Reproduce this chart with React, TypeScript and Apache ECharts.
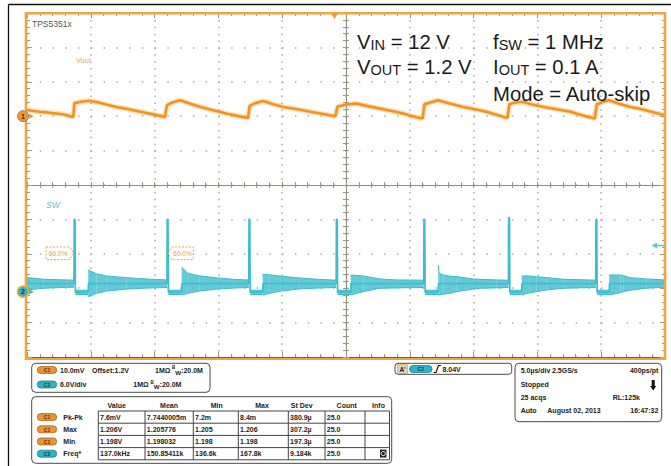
import React, { useEffect, useRef } from "react";
import * as echarts from "echarts";

const FONT = '"Liberation Sans", Arial, Helvetica, sans-serif';

// Horizontal: 5 µs/div, 10 divisions
const timeMin = 0;
const timeMax = 50;
const timeStep = 5;
// C1 (Vout): 10 mV/div, offset 1.2 V -> values in mV relative to 1.2 V
const c1Min = -70;
const c1Max = 30;
const c1Step = 10;
// C2 (SW): 6 V/div
const c2Min = -11.4;
const c2Max = 48.6;
const triggerLevel = 8.04;
const triggerTime = 24.1;

// Vout trace [µs, mV from 1.2 V]
const voutTrace: number[][] = [
  [0, 1.8], [0.5, 1.5], [1.0, 1.3], [1.6, 1.1], [2.0, 0.9], [2.5, 0.7], [3.0, 0.4], [3.62, -0.2],
  [3.72, 3.8], [4.2, 4.2], [4.9, 4.5], [5.6, 4.0], [6.3, 3.3], [7.0, 2.7], [8.0, 2.0], [8.9, 1.3], [9.8, 0.6], [10.8, -0.2],
  [10.97, 3.2], [11.4, 4.0], [12.0, 4.65], [12.8, 3.6], [13.6, 2.7], [14.6, 1.7], [15.6, 0.8], [16.5, 0.1], [17.32, -0.5],
  [17.45, 3.0], [17.9, 3.8], [18.5, 4.4], [19.3, 3.5], [20.1, 2.7], [21.2, 2.0], [22.2, 1.3], [23.1, 0.7], [24.15, 0.0],
  [24.35, 2.8], [25.05, 3.4], [25.8, 3.7], [26.6, 3.0], [27.7, 2.2], [28.6, 1.5], [29.5, 0.8], [30.2, 0.0], [31.0, -0.7],
  [31.15, 3.5], [31.6, 4.0], [32.2, 4.65], [33.2, 3.6], [34.2, 2.7], [35.1, 2.0], [36.0, 1.3], [36.8, 0.4], [37.65, -0.5],
  [37.8, 3.5], [38.2, 3.9], [38.8, 4.2], [39.6, 3.4], [40.5, 2.7], [41.5, 2.0], [42.6, 1.3], [43.5, 0.3], [44.5, -0.7],
  [44.65, 3.5], [45.1, 4.1], [45.6, 4.65], [46.4, 3.6], [47.3, 2.7], [48.2, 2.0], [49.0, 1.2], [50, 0.3],
];

// SW node main path [µs, V]: ringing centre, high-side pulses, low-side plateaus
const swEdges: number[][] = [
  [0, 1.4],
  [3.68, 1.4], [3.7, 12.6], [3.76, 12.6], [3.79, -0.1], [4.8, -0.1], [4.82, 1.4],
  [10.97, 1.4], [10.99, 12.6], [11.05, 12.6], [11.08, -0.1], [12.12, -0.1], [12.14, 1.4],
  [17.38, 1.4], [17.4, 12.6], [17.46, 12.6], [17.49, -0.1], [18.47, -0.1], [18.49, 1.4],
  [24.23, 1.4], [24.25, 12.6], [24.31, 12.6], [24.34, -0.1], [25.37, -0.1], [25.39, 1.4],
  [31.09, 1.4], [31.11, 12.6], [31.17, 12.6], [31.2, -0.1], [32.23, -0.1], [32.25, 1.4],
  [37.73, 1.4], [37.75, 12.9], [37.81, 12.9], [37.84, -0.1], [38.77, -0.1], [38.79, 1.4],
  [44.57, 1.4], [44.59, 12.6], [44.65, 12.6], [44.68, -0.1], [45.63, -0.1], [45.65, 1.4],
  [50, 1.4],
];

// SW ringing / plateau envelopes: each segment is [µs, low V, high V]
const swRinging: number[][][] = [
  [[0, 0.3, 2.45], [1.3, 0.59, 2.16], [3.1, 0.75, 2.04], [3.68, 0.77, 2.0]],
  [[3.79, -0.5, 0.25], [4.8, -0.5, 0.25]],
  [[4.8, -0.87, 3.78], [5.45, -0.3, 3.1], [6.25, 0.1, 2.74], [7.8, 0.45, 2.44], [9.4, 0.62, 2.21], [10.97, 0.72, 2.04]],
  [[11.08, -0.5, 0.25], [12.12, -0.5, 0.25]],
  [[12.12, -0.6, 4.25], [12.6, -0.3, 3.2], [13.5, 0.1, 2.75], [14.9, 0.45, 2.4], [16.2, 0.62, 2.15], [17.38, 0.72, 2.02]],
  [[17.49, -0.5, 0.25], [18.47, -0.5, 0.25]],
  [[18.47, -0.6, 3.03], [19.0, -0.3, 2.95], [19.9, 0.1, 2.7], [21.3, 0.45, 2.4], [22.8, 0.62, 2.15], [24.23, 0.72, 2.0]],
  [[24.34, -0.5, 0.25], [25.37, -0.5, 0.25]],
  [[25.37, -0.58, 2.91], [26.36, 0.0, 2.74], [27.66, 0.59, 2.21], [29.0, 0.65, 2.04], [31.09, 0.72, 2.0]],
  [[31.2, -0.5, 0.25], [32.23, -0.5, 0.25]],
  [[32.23, -0.58, 4.65], [32.3, -0.58, 3.2], [32.63, -0.45, 2.91], [33.15, -0.28, 2.7], [33.68, 0.0, 2.62], [34.98, 0.45, 2.21], [35.5, 0.59, 2.15], [36.8, 0.65, 2.04], [37.73, 0.72, 2.0]],
  [[37.84, -0.5, 0.25], [38.77, -0.5, 0.25]],
  [[38.77, -0.58, 2.74], [39.4, -0.2, 2.74], [39.94, 0.0, 2.6], [40.73, 0.3, 2.44], [42.03, 0.59, 2.16], [44.1, 0.7, 2.04], [44.57, 0.72, 2.0]],
  [[44.68, -0.5, 0.25], [45.63, -0.5, 0.25]],
  [[45.63, -0.58, 2.91], [46.5, -0.2, 2.91], [46.73, 0.0, 2.8], [47.26, 0.25, 2.44], [48.56, 0.59, 2.21], [50, 0.77, 2.04]],
];

// Measurement table
const tableHeaders = ["Value", "Mean", "Min", "Max", "St Dev", "Count", "Info"];
const measNames = ["Pk-Pk", "Max", "Min", "Freq*"];
const measChannels = ["C1", "C1", "C1", "C2"];
const measValue = ["7.6mV", "1.206V", "1.198V", "137.0kHz"];
const measMean = ["7.7440005m", "1.205776", "1.198032", "150.85411k"];
const measMin = ["7.2m", "1.205", "1.198", "136.6k"];
const measMax = ["8.4m", "1.206", "1.198", "167.8k"];
const measStDev = ["380.9µ", "307.2µ", "197.3µ", "9.184k"];
const measCount = ["25.0", "25.0", "25.0", "25.0"];

const ORANGE = "#f39a2c";
const CYAN = "#3dbccd";
const TICK = "#9d9788";
const DOT = "#a9a9a9";
const UI_SIZE = 7;

const ringFlat: number[][] = [];
swRinging.forEach((seg, s) => seg.forEach((p) => ringFlat.push([p[0], p[1], p[2], s])));

function txt(x: number, y: number, text: string, o: any = {}) {
  return {
    type: "text",
    x,
    y,
    z: o.z || 62,
    silent: true,
    style: {
      text,
      fill: o.fill || "#1c1c1c",
      fontFamily: FONT,
      fontSize: o.size || UI_SIZE,
      fontWeight: o.weight || "bold",
      fontStyle: o.italic ? "italic" : "normal",
      textAlign: o.align || "left",
      textVerticalAlign: "middle",
      rich: o.rich,
    },
  };
}

function pill(x: number, y: number, ch: string, w = 19.4) {
  const isC1 = ch === "C1";
  return [
    {
      type: "rect",
      z: 58,
      silent: true,
      shape: { x, y: y - 3.5, width: w, height: 7, r: 3.5 },
      style: {
        fill: isC1 ? "#e8953a" : "#2fb3c6",
        stroke: isC1 ? "#9c5a14" : "#1b6f7d",
        lineWidth: 0.7,
      },
    },
    txt(x + w / 2, y + 0.2, ch, { size: 5, align: "center", fill: isC1 ? "#5a3208" : "#0d3b44" }),
  ];
}

function box(x: number, y: number, w: number, h: number, r = 4) {
  return {
    type: "rect",
    z: 55,
    silent: true,
    shape: { x, y, width: w, height: h, r },
    style: { fill: "#ffffff", stroke: "#4a4a4a", lineWidth: 1 },
  };
}

function hline(x1: number, x2: number, y: number, stroke = "#444", lw = 1) {
  return { type: "line", z: 57, silent: true, shape: { x1, y1: y, x2, y2: y }, style: { stroke, lineWidth: lw } };
}
function vline(x: number, y1: number, y2: number, stroke = "#444", lw = 1) {
  return { type: "line", z: 57, silent: true, shape: { x1: x, y1, x2: x, y2 }, style: { stroke, lineWidth: lw } };
}

const bigRich = {
  m: { fontSize: 20.3, lineHeight: 28, verticalAlign: "bottom", fontFamily: FONT, fill: "#1a1a1a" },
  s: { fontSize: 14.5, lineHeight: 16, verticalAlign: "bottom", fontFamily: FONT, fill: "#1a1a1a" },
};
function big(x: number, y: number, text: string) {
  return {
    type: "text",
    x,
    y,
    z: 60,
    silent: true,
    style: { text, rich: bigRich, fontFamily: FONT, fontSize: 20.3, fill: "#1a1a1a", textVerticalAlign: "middle" },
  };
}

const bwRich = {
  b: { fontSize: 4.5, lineHeight: 10, verticalAlign: "top", fontFamily: FONT, fontWeight: "bold", fill: "#1c1c1c" },
  w: { fontSize: 6.2, lineHeight: 9, verticalAlign: "bottom", fontFamily: FONT, fontWeight: "bold", fill: "#1c1c1c" },
  t: { fontSize: UI_SIZE, lineHeight: 10, verticalAlign: "middle", fontFamily: FONT, fontWeight: "bold", fill: "#1c1c1c" },
};

function buildGraphics(y1: number, y2: number, yTrig: number, xTrig: number): any[] {
  const g: any[] = [];
  // outer black frame
  g.push({ type: "line", z: 5, silent: true, shape: { x1: 8.5, y1: 4.5, x2: 671, y2: 4.5 }, style: { stroke: "#111", lineWidth: 1.3 } });
  g.push({ type: "line", z: 5, silent: true, shape: { x1: 8.5, y1: 4.5, x2: 8.5, y2: 466 }, style: { stroke: "#111", lineWidth: 1.3 } });
  // orange screen frame
  g.push({
    type: "rect",
    z: 50,
    silent: true,
    shape: { x: 26, y: 13.2, width: 639, height: 345.5 },
    style: { fill: "none", stroke: "#f2a53f", lineWidth: 2.6 },
  });
  // labels on screen
  g.push(txt(32, 24, "TPS5351x", { size: 8.5, weight: "normal", fill: "#555" }));
  g.push(txt(76, 60, "Vout", { size: 7.5, weight: "normal", fill: "#f6a55a" }));
  g.push(txt(46, 205, "SW", { size: 8.5, weight: "normal", italic: true, fill: "#56c6d6" }));
  // big annotation
  g.push(big(357, 38.2, "{m|V}{s|IN}{m| = 12 V}"));
  g.push(big(493, 38.2, "{m|f}{s|SW}{m| = 1 MHz}"));
  g.push(big(357, 63.2, "{m|V}{s|OUT}{m| = 1.2 V}"));
  g.push(big(493, 63.2, "{m|I}{s|OUT}{m| = 0.1 A}"));
  g.push(big(493, 89.9, "{m|Mode = Auto-skip}"));

  // channel markers
  g.push({ type: "circle", z: 61, silent: true, shape: { cx: 23, cy: y1, r: 5.5 }, style: { fill: "#f19a2c", stroke: "#8a8a8a", lineWidth: 1 } });
  g.push(txt(23, y1 + 0.3, "1", { size: 7, align: "center", fill: "#3a2a10", z: 63 }));
  g.push({ type: "polygon", z: 61, silent: true, shape: { points: [[29, y1 - 2.5], [34, y1], [29, y1 + 2.5]] }, style: { fill: ORANGE } });
  g.push({ type: "circle", z: 61, silent: true, shape: { cx: 23, cy: y2, r: 5.5 }, style: { fill: "#3bb3c6", stroke: "#f2a53f", lineWidth: 1.5 } });
  g.push(txt(23, y2 + 0.3, "2", { size: 7, align: "center", fill: "#0d3b44", z: 63 }));
  g.push({ type: "polygon", z: 61, silent: true, shape: { points: [[29, y2 - 2.5], [34, y2], [29, y2 + 2.5]] }, style: { fill: CYAN } });

  // trigger position / level markers
  g.push({ type: "polygon", z: 61, silent: true, shape: { points: [[xTrig - 3.5, 13.5], [xTrig + 3.5, 13.5], [xTrig, 19]] }, style: { fill: ORANGE } });
  g.push({ type: "line", z: 61, silent: true, shape: { x1: 656, y1: yTrig, x2: 665, y2: yTrig }, style: { stroke: "#5cc8d8", lineWidth: 1.5 } });
  g.push({ type: "polygon", z: 61, silent: true, shape: { points: [[651.5, yTrig], [657, yTrig - 3], [657, yTrig + 3]] }, style: { fill: "#5cc8d8" } });

  // 60.0% cursor tags
  const dash = { fill: "rgba(255,255,255,0.6)", stroke: ORANGE, lineWidth: 0.9, lineDash: [2, 1.5] };
  g.push({ type: "polygon", z: 59, silent: true, shape: { points: [[46, 247], [70, 247], [73.5, 253.3], [70, 259.6], [46, 259.6]] }, style: dash });
  g.push(txt(58, 253.5, "60.0%", { size: 6.5, weight: "normal", align: "center", fill: ORANGE }));
  g.push({ type: "polygon", z: 59, silent: true, shape: { points: [[168.3, 253.3], [171.5, 247], [193.3, 247], [193.3, 259.6], [171.5, 259.6]] }, style: dash });
  g.push(txt(182.5, 253.5, "60.0%", { size: 6.5, weight: "normal", align: "center", fill: ORANGE }));

  // channel settings box
  g.push(box(31.7, 363.3, 178.3, 29));
  g.push(...pill(37.3, 370, "C1"));
  g.push(txt(60, 370, "10.0mV"));
  g.push(txt(92, 370, "Offset:1.2V"));
  g.push(txt(155, 370, "1MΩ"));
  g.push(txt(172, 370, "{b|B}{w|W}{t|:20.0M}", { rich: bwRich }));
  g.push(...pill(37.3, 384.5, "C2"));
  g.push(txt(60, 384.5, "6.0V/div"));
  g.push(txt(133.3, 384.5, "1MΩ"));
  g.push(txt(150.5, 384.5, "{b|B}{w|W}{t|:20.0M}", { rich: bwRich }));

  // measurement table
  g.push(box(31.7, 396.7, 360, 66.6));
  const cols = [98.3, 145, 193.3, 238.3, 288.3, 325, 365, 389.5];
  const rows = [411, 423.2, 435.4, 447.6, 459.8];
  const headerX = [116.7, 169, 216.7, 262, 301.7, 346.7, 378.5];
  tableHeaders.forEach((h, i) => g.push(txt(headerX[i], 405.7, h, { align: "center" })));
  rows.forEach((y) => g.push(hline(cols[0], cols[cols.length - 1], y)));
  cols.forEach((x) => g.push(vline(x, rows[0], rows[rows.length - 1])));
  const colsData = [measValue, measMean, measMin, measMax, measStDev, measCount];
  measNames.forEach((name, r) => {
    const cy = (rows[r] + rows[r + 1]) / 2;
    g.push(...pill(37.3, cy, measChannels[r]));
    g.push(txt(63.3, cy, name));
    colsData.forEach((col, c) => g.push(txt(cols[c] + 1.8, cy, col[r])));
  });
  // info icon
  g.push({ type: "rect", z: 58, silent: true, shape: { x: 380, y: 449.6, width: 6.5, height: 8 }, style: { fill: "#222" } });
  g.push({ type: "circle", z: 59, silent: true, shape: { cx: 383.25, cy: 453.6, r: 2.1 }, style: { fill: "none", stroke: "#fff", lineWidth: 1 } });

  // trigger box
  g.push(box(395, 363.3, 116.7, 11, 3));
  g.push({ type: "rect", z: 58, silent: true, shape: { x: 397.7, y: 364.8, width: 9.6, height: 8.6 }, style: { fill: "#d9d9d9", stroke: "#f2a53f", lineWidth: 1 } });
  g.push(txt(402.5, 369.2, "A'", { size: 6.5, align: "center" }));
  g.push(...pill(409.5, 369, "C2", 22.5));
  g.push({ type: "polyline", z: 58, silent: true, shape: { points: [[433.5, 372.5], [436, 372.5], [438.5, 365.5], [441, 365.5]] }, style: { stroke: "#111", lineWidth: 1.2, fill: "none" } });
  g.push(txt(442.5, 369, "8.04V"));

  // acquisition box
  g.push(box(515, 363.3, 146.7, 58.4));
  g.push(txt(520.7, 370, "5.0µs/div"));
  g.push(txt(552, 370, "2.5GS/s"));
  g.push(txt(658.3, 370, "400ps/pt", { align: "right" }));
  g.push(txt(520.7, 384.3, "Stopped"));
  g.push({
    type: "polygon",
    z: 58,
    silent: true,
    shape: { points: [[651.7, 380], [654.7, 380], [654.7, 386], [656.2, 386], [653.2, 390.5], [650.2, 386], [651.7, 386]] },
    style: { fill: "#111" },
  });
  g.push(txt(520.7, 397.3, "25 acqs"));
  g.push(txt(612.7, 397.3, "RL:125k"));
  g.push(txt(520.7, 410.7, "Auto"));
  g.push(txt(547.3, 410.7, "August 02, 2013"));
  g.push(txt(658.3, 410.7, "16:47:32", { align: "right" }));
  return g;
}

const xBase: any = {
  type: "value",
  gridIndex: 0,
  min: timeMin,
  max: timeMax,
  interval: timeStep,
  axisLabel: { show: false },
  splitLine: { show: false },
  axisLine: { show: false, onZero: false },
  axisTick: { show: true, inside: true, length: 5, lineStyle: { color: TICK } },
  minorTick: { show: true, splitNumber: 5, length: 3, lineStyle: { color: TICK } },
};
const yBase: any = {
  type: "value",
  gridIndex: 0,
  min: c1Min,
  max: c1Max,
  interval: c1Step,
  axisLabel: { show: false },
  splitLine: { show: false },
  axisLine: { show: false, onZero: false },
  axisTick: { show: true, inside: true, length: 5, lineStyle: { color: TICK } },
  minorTick: { show: true, splitNumber: 5, length: 3, lineStyle: { color: TICK } },
};

const option: any = {
  animation: false,
  backgroundColor: "#ffffff",
  grid: { left: 27, top: 13, width: 638, height: 344, containLabel: false },
  xAxis: [
    {
      ...xBase,
      position: "bottom",
      axisLine: { show: true, onZero: false, lineStyle: { color: "#1a1a1a", width: 1 } },
      splitLine: { show: true, lineStyle: { color: DOT, width: 1.5, type: [1.5, 5.38] } },
    },
    { ...xBase, position: "top" },
    {
      ...xBase,
      position: "bottom",
      offset: -172,
      axisLine: { show: true, onZero: false, lineStyle: { color: "#8f8a7a", width: 1 } },
      axisTick: { show: true, inside: true, length: 3, lineStyle: { color: TICK } },
    },
    {
      ...xBase,
      position: "bottom",
      offset: -172,
      axisTick: { show: true, inside: false, length: 3, lineStyle: { color: TICK } },
      minorTick: { show: true, splitNumber: 5, length: 3, lineStyle: { color: TICK } },
    },
  ],
  yAxis: [
    {
      ...yBase,
      position: "left",
      splitLine: { show: true, lineStyle: { color: DOT, width: 1.5, type: [1.5, 11.26] } },
    },
    { type: "value", gridIndex: 0, min: c2Min, max: c2Max, show: false },
    { ...yBase, position: "right" },
    {
      ...yBase,
      position: "left",
      offset: -319,
      axisLine: { show: true, onZero: false, lineStyle: { color: "#8f8a7a", width: 1 } },
      axisTick: { show: true, inside: true, length: 3, lineStyle: { color: TICK } },
    },
    {
      ...yBase,
      position: "left",
      offset: -319,
      axisTick: { show: true, inside: false, length: 3, lineStyle: { color: TICK } },
    },
  ],
  series: [
    {
      name: "Vout halo",
      type: "line",
      xAxisIndex: 0,
      yAxisIndex: 0,
      data: voutTrace,
      symbol: "none",
      silent: true,
      z: 3,
      lineStyle: { color: "rgba(247,150,40,0.28)", width: 5.5 },
    },
    {
      name: "Vout",
      type: "line",
      xAxisIndex: 0,
      yAxisIndex: 0,
      data: voutTrace,
      symbol: "none",
      silent: true,
      z: 4,
      lineStyle: { color: "#f5921e", width: 2.6 },
    },
    {
      name: "SW",
      type: "line",
      xAxisIndex: 0,
      yAxisIndex: 1,
      data: swEdges,
      symbol: "none",
      silent: true,
      z: 3,
      lineStyle: { color: CYAN, width: 1.7 },
    },
    {
      name: "SW ringing",
      type: "custom",
      xAxisIndex: 0,
      yAxisIndex: 1,
      silent: true,
      z: 4,
      data: ringFlat,
      encode: { x: 0, y: [1, 2] },
      renderItem: (params: any, api: any) => {
        const i = params.dataIndex;
        const cur = ringFlat[i];
        const nxt = ringFlat[i + 1];
        if (!nxt || nxt[3] !== cur[3]) return null;
        const a = api.coord([cur[0], cur[2]]);
        const b = api.coord([nxt[0], nxt[2]]);
        const c = api.coord([nxt[0], nxt[1]]);
        const d = api.coord([cur[0], cur[1]]);
        return {
          type: "group",
          children: [
            { type: "polygon", shape: { points: [a, b, c, d] }, style: { fill: "rgba(66,190,206,0.82)" } },
            { type: "line", shape: { x1: a[0], y1: a[1], x2: b[0], y2: b[1] }, style: { stroke: CYAN, lineWidth: 1 } },
            { type: "line", shape: { x1: d[0], y1: d[1], x2: c[0], y2: c[1] }, style: { stroke: CYAN, lineWidth: 1 } },
          ],
        };
      },
    },
  ],
};

export default function App() {
  const ref = useRef<HTMLDivElement>(null);
  useEffect(() => {
    if (!ref.current) return;
    const chart = echarts.init(ref.current, null, { renderer: "svg" });
    chart.setOption(option);
    const y1 = chart.convertToPixel({ yAxisIndex: 0 } as any, 0) as unknown as number;
    const y2 = chart.convertToPixel({ yAxisIndex: 1 } as any, 0) as unknown as number;
    const yTrig = chart.convertToPixel({ yAxisIndex: 1 } as any, triggerLevel) as unknown as number;
    const xTrig = chart.convertToPixel({ xAxisIndex: 0 } as any, triggerTime) as unknown as number;
    chart.setOption({ graphic: { elements: buildGraphics(y1, y2, yTrig, xTrig) } });
    return () => chart.dispose();
  }, []);
  return (
    <div
      ref={ref}
      style={{ position: "absolute", left: 0, top: 0, width: 671, height: 466, background: "#fff" }}
    />
  );
}
